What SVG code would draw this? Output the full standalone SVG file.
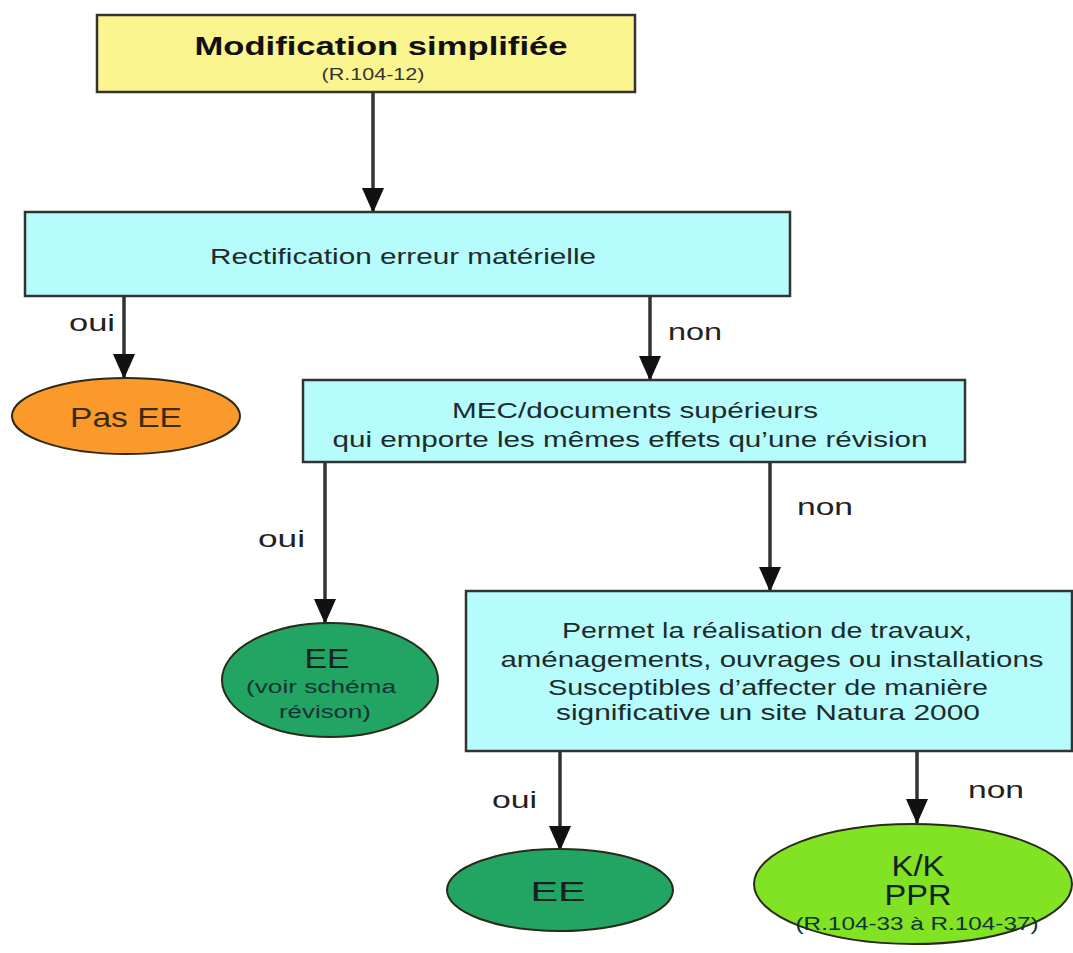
<svg xmlns="http://www.w3.org/2000/svg" width="1073" height="953" viewBox="0 0 1073 953">
  <style>
    text { font-family: "Liberation Sans", Arial, sans-serif; text-anchor: middle; }
    .box { stroke: #333; stroke-width: 2.5; }
    .q { fill: #b6fcfc; }
    .t { fill: #1d2b2b; font-size: 22px; }
    .lbl { fill: #222; font-size: 24px; text-anchor: start; }
    .ell { stroke: #2a2a1a; stroke-width: 2; }
    .wire { stroke: #333; stroke-width: 3.5; fill: none; marker-end: url(#arrow); }
  </style>
  <defs>
    <!-- filled triangular arrowhead, tip at the end of the line -->
    <marker id="arrow" viewBox="0 0 25 22" refX="24" refY="11" markerWidth="25" markerHeight="22" markerUnits="userSpaceOnUse" orient="auto">
      <path d="M0,0 L25,11 L0,22 Z" fill="#111"/>
    </marker>
  </defs>
  <rect width="1073" height="953" fill="#fff"/>

  <g id="connectors">
    <line class="wire" x1="373" y1="92" x2="373" y2="212"/>
    <line class="wire" x1="124" y1="296" x2="124" y2="378"/>
    <line class="wire" x1="650" y1="296" x2="650" y2="380"/>
    <line class="wire" x1="325" y1="462" x2="325" y2="623"/>
    <line class="wire" x1="770" y1="462" x2="770" y2="591"/>
    <line class="wire" x1="560" y1="751" x2="560" y2="850"/>
    <line class="wire" x1="917" y1="751" x2="917" y2="823"/>
    <text class="lbl" x="69" y="331" textLength="46" lengthAdjust="spacingAndGlyphs">oui</text>
    <text class="lbl" x="668" y="340" textLength="54" lengthAdjust="spacingAndGlyphs">non</text>
    <text class="lbl" x="258" y="547" textLength="47" lengthAdjust="spacingAndGlyphs">oui</text>
    <text class="lbl" x="797" y="515" textLength="56" lengthAdjust="spacingAndGlyphs">non</text>
    <text class="lbl" x="492" y="808" textLength="45" lengthAdjust="spacingAndGlyphs">oui</text>
    <text class="lbl" x="968" y="798" textLength="56" lengthAdjust="spacingAndGlyphs">non</text>
  </g>

  <g id="modification">
    <rect class="box" x="97" y="15" width="538" height="77" fill="#fbf590"/>
    <text x="381" y="55" font-size="26" font-weight="bold" fill="#111" textLength="373" lengthAdjust="spacingAndGlyphs">Modification simplifiée</text>
    <text x="373" y="80" font-size="16" fill="#333" textLength="103" lengthAdjust="spacingAndGlyphs">(R.104-12)</text>
  </g>

  <g id="rectification">
    <rect class="box q" x="25" y="212" width="765" height="84"/>
    <text class="t" x="403" y="264" textLength="386" lengthAdjust="spacingAndGlyphs">Rectification erreur matérielle</text>
  </g>

  <g id="pas-ee">
    <ellipse class="ell" cx="126" cy="416" rx="114" ry="38" fill="#fb9a2a"/>
    <text x="126" y="427" font-size="28" fill="#3a2a10" textLength="112" lengthAdjust="spacingAndGlyphs">Pas EE</text>
  </g>

  <g id="mec">
    <rect class="box q" x="303" y="380" width="662" height="82"/>
    <text class="t" x="635" y="418" textLength="366" lengthAdjust="spacingAndGlyphs">MEC/documents supérieurs</text>
    <text class="t" x="630" y="447" textLength="595" lengthAdjust="spacingAndGlyphs">qui emporte les mêmes effets qu’une révision</text>
  </g>

  <g id="ee-revision">
    <ellipse class="ell" cx="330" cy="680" rx="108" ry="57" fill="#22a463"/>
    <text x="327" y="668" font-size="28" fill="#122" textLength="45" lengthAdjust="spacingAndGlyphs">EE</text>
    <text x="321" y="693" font-size="18" fill="#133" textLength="150" lengthAdjust="spacingAndGlyphs">(voir schéma</text>
    <text x="325" y="718" font-size="18" fill="#133" textLength="92" lengthAdjust="spacingAndGlyphs">révison)</text>
  </g>

  <g id="natura">
    <rect class="box q" x="466" y="591" width="606" height="160"/>
    <text class="t" x="767" y="638" textLength="410" lengthAdjust="spacingAndGlyphs">Permet la réalisation de travaux,</text>
    <text class="t" x="772" y="667" textLength="543" lengthAdjust="spacingAndGlyphs">aménagements, ouvrages ou installations</text>
    <text class="t" x="768" y="695" textLength="440" lengthAdjust="spacingAndGlyphs">Susceptibles d’affecter de manière</text>
    <text class="t" x="768" y="720" textLength="424" lengthAdjust="spacingAndGlyphs">significative un site Natura 2000</text>
  </g>

  <g id="ee">
    <ellipse class="ell" cx="560" cy="890" rx="113" ry="41" fill="#22a463"/>
    <text x="558" y="901" font-size="28" fill="#122" textLength="55" lengthAdjust="spacingAndGlyphs">EE</text>
  </g>

  <g id="kk-ppr">
    <ellipse class="ell" cx="913" cy="884" rx="159" ry="60" fill="#82e324"/>
    <text x="918" y="876" font-size="29" fill="#122" textLength="53" lengthAdjust="spacingAndGlyphs">K/K</text>
    <text x="918" y="905" font-size="29" fill="#122" textLength="67" lengthAdjust="spacingAndGlyphs">PPR</text>
    <text x="917" y="930" font-size="18" fill="#133" textLength="243" lengthAdjust="spacingAndGlyphs">(R.104-33 à R.104-37)</text>
  </g>
</svg>
